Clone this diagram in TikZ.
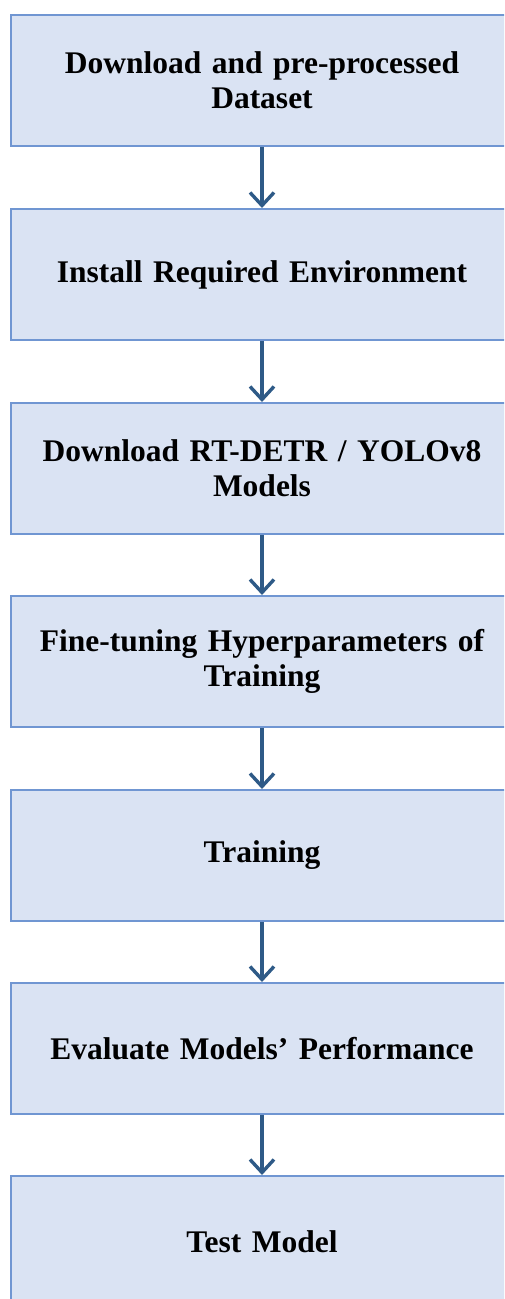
\documentclass[tikz,border=0pt]{standalone}
\usepackage{fontspec}
\setmainfont{Liberation Serif}
\usetikzlibrary{arrows.meta}
\definecolor{boxfill}{HTML}{DAE3F3}
\definecolor{boxline}{HTML}{7096D2}
\definecolor{arrowcol}{HTML}{2E5A87}
\tikzset{
  stepbox/.style={draw=boxline, line width=1.9pt, fill=boxfill,
    minimum width=502pt, minimum height=131pt, anchor=north,
    align=center, text width=480pt,
    font=\fontsize{31.5}{35}\selectfont\bfseries},
  flowarrow/.style={draw=arrowcol, line width=3.4pt,
    -{Straight Barb[length=13pt,width=24pt,line width=3.4pt]}}
}
\begin{document}
\begin{tikzpicture}[x=1pt,y=-1pt]
  \clip (0,0) rectangle (504,1299);
  \fill[white] (0,0) rectangle (504,1299);
  \node[stepbox] (b1) at (262,14)   {Download and pre-processed\\Dataset};
  \node[stepbox] (b2) at (262,208)  {Install Required Environment};
  \node[stepbox] (b3) at (262,402)  {Download RT-DETR / YOLOv8\\Models};
  \node[stepbox] (b4) at (262,595)  {Fine-tuning Hyperparameters of\\Training};
  \node[stepbox] (b5) at (262,789)  {Training};
  \node[stepbox] (b6) at (262,982)  {Evaluate Models’ Performance};
  \node[stepbox] (b7) at (262,1175) {Test Model};
  \foreach \a/\b in {b1/b2,b2/b3,b3/b4,b4/b5,b5/b6,b6/b7}
    \draw[flowarrow] (\a.south) -- (\b.north);
\end{tikzpicture}
\end{document}
